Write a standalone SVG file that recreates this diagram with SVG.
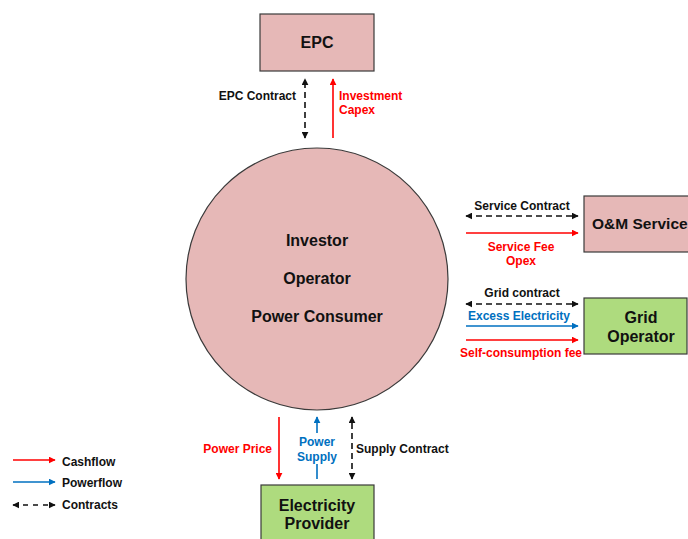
<svg xmlns="http://www.w3.org/2000/svg" width="688" height="539" viewBox="0 0 688 539">
  <style>
    text { font-family: "Liberation Sans", Arial, sans-serif; font-weight: bold; }
    .node-pink { fill: #E6B8B7; stroke: #3a3a3a; stroke-width: 1.2; }
    .node-green { fill: #AEDB7E; stroke: #3a3a3a; stroke-width: 1.2; }
    .node-label { font-size: 16px; fill: #111; text-anchor: middle; }
    .lbl { font-size: 12px; }
    .lbl-k { fill: #111; }
    .lbl-r { fill: #FF0000; }
    .lbl-b { fill: #0070C0; }
    .cash { stroke: #FF0000; stroke-width: 1.6; fill: none; marker-end: url(#head-red); }
    .power { stroke: #0070C0; stroke-width: 1.6; fill: none; }
    .contract { stroke: #111; stroke-width: 1.6; fill: none; stroke-dasharray: 6 4; marker-start: url(#head-black-rev); marker-end: url(#head-black); }
  </style>
  <defs>
    <marker id="head-red" viewBox="0 0 10 10" refX="9" refY="5" markerWidth="7" markerHeight="7" markerUnits="userSpaceOnUse" orient="auto">
      <path d="M0,0 L10,5 L0,10 Z" fill="#FF0000"/>
    </marker>
    <marker id="head-blue" viewBox="0 0 10 10" refX="9" refY="5" markerWidth="7" markerHeight="7" markerUnits="userSpaceOnUse" orient="auto">
      <path d="M0,0 L10,5 L0,10 Z" fill="#0070C0"/>
    </marker>
    <marker id="head-black" viewBox="0 0 10 10" refX="9" refY="5" markerWidth="7" markerHeight="7" markerUnits="userSpaceOnUse" orient="auto">
      <path d="M0,0 L10,5 L0,10 Z" fill="#111"/>
    </marker>
    <marker id="head-black-rev" viewBox="0 0 10 10" refX="1" refY="5" markerWidth="7" markerHeight="7" markerUnits="userSpaceOnUse" orient="auto">
      <path d="M10,0 L0,5 L10,10 Z" fill="#111"/>
    </marker>
  </defs>

  <rect width="688" height="539" fill="#ffffff"/>

  <!-- Nodes -->
  <g id="epc">
    <rect class="node-pink" x="260" y="14" width="114" height="57"/>
    <text class="node-label" x="317" y="48">EPC</text>
  </g>

  <g id="consumer">
    <circle class="node-pink" cx="317" cy="279" r="131"/>
    <text class="node-label" x="317" y="246">Investor</text>
    <text class="node-label" x="317" y="284">Operator</text>
    <text class="node-label" x="317" y="322">Power Consumer</text>
  </g>

  <g id="om-service">
    <rect class="node-pink" x="584" y="196" width="116" height="56"/>
    <text class="node-label" x="592" y="229" style="text-anchor:start;font-size:15.5px">O&amp;M Service</text>
  </g>

  <g id="grid-operator">
    <rect class="node-green" x="584" y="298" width="103" height="56"/>
    <text class="node-label" x="641" y="323">Grid</text>
    <text class="node-label" x="641" y="342">Operator</text>
  </g>

  <g id="electricity-provider">
    <rect class="node-green" x="261" y="485" width="113" height="60"/>
    <text class="node-label" x="317" y="511">Electricity</text>
    <text class="node-label" x="317" y="529">Provider</text>
  </g>

  <!-- Connectors -->
  <g id="connectors">
    <!-- EPC -->
    <line class="contract" x1="305" y1="138" x2="305" y2="79"/>
    <line class="cash" x1="333" y1="138" x2="333" y2="79"/>
    <!-- O&M -->
    <line class="contract" x1="466" y1="216" x2="578" y2="216"/>
    <line class="cash" x1="466" y1="233" x2="578" y2="233"/>
    <!-- Grid -->
    <line class="contract" x1="466" y1="304" x2="578" y2="304"/>
    <line class="power" x1="466" y1="326" x2="578" y2="326" marker-end="url(#head-blue)"/>
    <line class="cash" x1="466" y1="340" x2="578" y2="340"/>
    <!-- Electricity provider -->
    <line class="cash" x1="279" y1="417" x2="279" y2="479"/>
    <line class="power" x1="317" y1="433" x2="317" y2="417" marker-end="url(#head-blue)"/>
    <line class="power" x1="317" y1="479" x2="317" y2="464"/>
    <line class="contract" x1="352" y1="479" x2="352" y2="417"/>
  </g>

  <!-- Connector labels -->
  <g id="connector-labels" class="lbl">
    <text class="lbl lbl-k" x="296" y="100" text-anchor="end">EPC Contract</text>
    <text class="lbl lbl-r" x="339" y="100">Investment</text>
    <text class="lbl lbl-r" x="339" y="114">Capex</text>

    <text class="lbl lbl-k" x="522" y="210" text-anchor="middle">Service Contract</text>
    <text class="lbl lbl-r" x="521" y="251" text-anchor="middle">Service Fee</text>
    <text class="lbl lbl-r" x="521" y="265" text-anchor="middle">Opex</text>

    <text class="lbl lbl-k" x="522" y="297" text-anchor="middle">Grid contract</text>
    <text class="lbl lbl-b" x="519" y="320" text-anchor="middle">Excess Electricity</text>
    <text class="lbl lbl-r" x="460" y="357">Self-consumption fee</text>

    <text class="lbl lbl-r" x="272" y="453" text-anchor="end">Power Price</text>
    <text class="lbl lbl-b" x="317" y="446" text-anchor="middle">Power</text>
    <text class="lbl lbl-b" x="317" y="461" text-anchor="middle">Supply</text>
    <text class="lbl lbl-k" x="356" y="453">Supply Contract</text>
  </g>

  <!-- Legend -->
  <g id="legend">
    <line class="cash" x1="13" y1="460" x2="55" y2="460"/>
    <text class="lbl lbl-k" x="62" y="466">Cashflow</text>
    <line class="power" x1="13" y1="482" x2="55" y2="482" marker-end="url(#head-blue)"/>
    <text class="lbl lbl-k" x="62" y="487">Powerflow</text>
    <line class="contract" x1="13" y1="505" x2="55" y2="505" style="stroke-dasharray:5 5"/>
    <text class="lbl lbl-k" x="62" y="509">Contracts</text>
  </g>
</svg>
